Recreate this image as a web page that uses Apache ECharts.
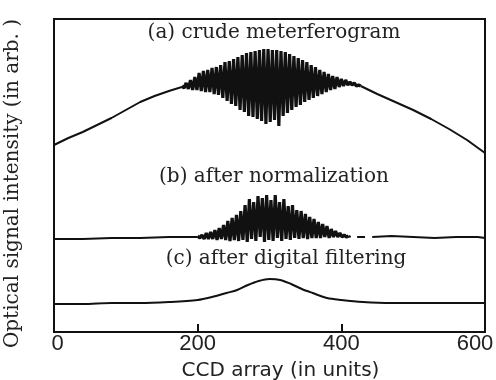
<!DOCTYPE html>
<html>
<head>
<meta charset="utf-8">
<script src="https://cdn.jsdelivr.net/npm/echarts@6/dist/echarts.min.js"></script>
<style>
  html, body { margin: 0; padding: 0; background: #fff; }
  #main { width: 496px; height: 380px; }
</style>
</head>
<body>
<div id="main"></div>
<script>
// x axis ticks
var xTicks = [0, 200, 400, 600];

// (a) crude interferogram : smooth left part, fringes, smooth right part
var aLeftX = [0, 20, 40, 60, 80, 100, 120, 140, 160, 178];
var aLeftY = [187, 194, 200, 207, 214, 222, 230, 236, 241, 245];
var aOscStart = 178, aOscStep = 3;
var aOsc = [246, 244, 249, 243, 252, 242, 255, 242, 259, 241,
            261, 240, 262, 240, 264, 238, 265, 237, 267, 234,
            270, 231, 271, 228, 273, 226, 275, 222, 277, 220,
            279, 216, 280, 215, 281, 213, 282, 211, 283, 208,
            283, 210, 282, 212, 282, 206, 281, 216, 280, 219,
            278, 222, 276, 225, 274, 227, 272, 230, 270, 232,
            267, 234, 265, 236, 262, 238, 260, 240, 258, 242,
            256, 243, 255, 245, 253, 246, 252, 247, 250, 247,
            249, 246, 247, 246];
var aRightX = [427, 450, 475, 500, 525, 550, 575, 600];
var aRightY = [246, 238, 230, 222, 213, 203, 192, 179];

// (b) after normalization
var bLeftX = [0, 40, 80, 120, 160, 200];
var bLeftY = [93, 93, 94, 94, 95, 95];
var bOscStart = 200, bOscStep = 3;
var bOsc = [96, 94, 97, 93, 99, 93, 100, 93, 102, 92,
            104, 93, 107, 92, 111, 91, 114, 92, 117, 91,
            121, 92, 127, 90, 133, 93, 130, 91, 136, 95,
            134, 90, 137, 92, 132, 91, 137, 94, 130, 91,
            133, 93, 126, 92, 127, 94, 122, 93, 121, 94,
            118, 93, 115, 94, 113, 94, 110, 94, 108, 95,
            106, 94, 103, 95, 101, 95, 99, 95, 97, 95,
            96];
var bRightX = [410, 413, 416, 422, 433, 438, 443, 470, 500, 530, 560, 590, 600];
var bRightY = [96, 95, '-', 95, 95, '-', 95, 96, 95, 94, 95, 95, 94];

// (c) after digital filtering
var cX = [0, 40, 80, 120, 160, 200, 220, 240, 255, 270, 285, 300, 315, 330, 345, 360, 380, 400, 430, 470, 520, 560, 600];
var cY = [28, 28, 29, 29, 30, 32, 35, 39, 42, 47, 51, 53, 52, 48, 43, 39, 34, 32, 30, 29, 29, 29, 29];

var labels = ['(a) crude meterferogram', '(b) after normalization', '(c) after digital filtering'];

function pairs(xs, ys) {
    var out = [];
    for (var i = 0; i < xs.length; i++) out.push([xs[i], ys[i]]);
    return out;
}
function osc(start, step, vals) {
    var out = [];
    for (var i = 0; i < vals.length; i++) out.push([start + i * step, vals[i]]);
    return out;
}

var lineStyle = { color: '#111', width: 2 };
var oscStyle = { color: '#111', width: 3.2 };
var textFont = '20px "DejaVu Serif"';

var myChart = echarts.init(document.getElementById('main'));
var option = {
    animation: false,
    backgroundColor: '#fff',
    grid: {
        left: 54,
        right: 11,
        top: 19,
        bottom: 48,
        outerBoundsMode: 'none',
        show: true,
        borderColor: '#111',
        borderWidth: 2
    },
    xAxis: {
        type: 'value',
        min: xTicks[0],
        max: xTicks[xTicks.length - 1],
        interval: 200,
        name: 'CCD array (in units)',
        nameLocation: 'middle',
        nameGap: 29,
        nameTextStyle: {
            fontFamily: 'DejaVu Sans',
            fontSize: 20,
            color: '#222',
            padding: [0, 0, 0, 22]
        },
        axisLine: { show: true, lineStyle: { color: '#111', width: 2 } },
        axisTick: { show: true, inside: true, length: 8, lineStyle: { color: '#111', width: 2 } },
        splitLine: { show: false },
        axisLabel: {
            margin: 1,
            color: '#222',
            fontFamily: 'Liberation Sans',
            fontSize: 22,
            formatter: function (v) {
                if (v === 0) return '{l|0}';
                if (v === 600) return '{r|600}';
                return '' + v;
            },
            rich: {
                l: { fontFamily: 'Liberation Sans', fontSize: 22, color: '#222', padding: [0, 0, 0, 7] },
                r: { fontFamily: 'Liberation Sans', fontSize: 22, color: '#222', padding: [0, 20, 0, 0] }
            }
        }
    },
    yAxis: {
        type: 'value',
        min: 0,
        max: 313,
        name: 'Optical signal intensity (in arb. )',
        nameLocation: 'middle',
        nameRotate: 90,
        nameGap: 31,
        nameTextStyle: {
            fontFamily: 'DejaVu Serif',
            fontSize: 20,
            color: '#222',
            padding: [0, 16, 0, 0]
        },
        axisLine: { show: false },
        axisTick: { show: false },
        axisLabel: { show: false },
        splitLine: { show: false }
    },
    graphic: [
        { type: 'text', x: 274, y: 33, style: { text: labels[0], font: textFont, fill: '#222', textAlign: 'center', textVerticalAlign: 'middle' } },
        { type: 'text', x: 274, y: 177, style: { text: labels[1], font: textFont, fill: '#222', textAlign: 'center', textVerticalAlign: 'middle' } },
        { type: 'text', x: 286, y: 259, style: { text: labels[2], font: textFont, fill: '#222', textAlign: 'center', textVerticalAlign: 'middle' } }
    ],
    series: [
        { name: 'a', type: 'line', data: pairs(aLeftX, aLeftY), showSymbol: false, lineStyle: lineStyle },
        { name: 'a2', type: 'line', data: pairs(aRightX, aRightY), showSymbol: false, lineStyle: lineStyle },
        { name: 'a fringes', type: 'line', data: osc(aOscStart, aOscStep, aOsc), showSymbol: false, lineStyle: oscStyle },
        { name: 'b', type: 'line', data: pairs(bLeftX, bLeftY), showSymbol: false, lineStyle: lineStyle },
        { name: 'b2', type: 'line', data: pairs(bRightX, bRightY), showSymbol: false, lineStyle: lineStyle, connectNulls: false },
        { name: 'b fringes', type: 'line', data: osc(bOscStart, bOscStep, bOsc), showSymbol: false, lineStyle: oscStyle },
        { name: 'c', type: 'line', data: pairs(cX, cY), showSymbol: false, smooth: 0.3, lineStyle: lineStyle }
    ]
};
myChart.setOption(option);
</script>
</body>
</html>
